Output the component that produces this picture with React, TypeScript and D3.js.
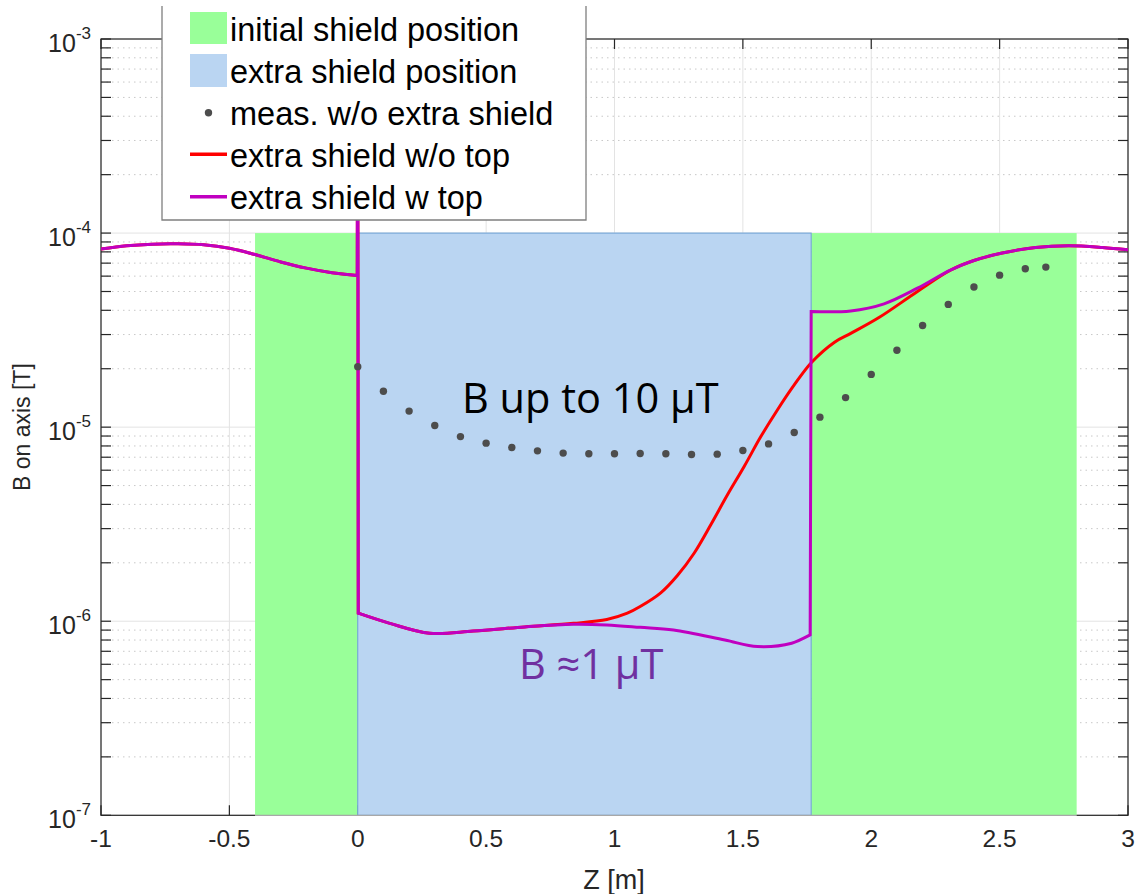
import React from 'react';
import * as d3 from 'd3';

// shield regions [start, end] in m
const initialShield = [[-0.4, 0], [1.766, 2.8]];
const extraShield = [[0, 1.766]];
const shieldTop = 1e-4;

// measurement without extra shield
const measZ = [0, 0.1, 0.2, 0.3, 0.4, 0.5, 0.6, 0.7, 0.8, 0.9, 1.0, 1.1, 1.2, 1.3, 1.4,
  1.5, 1.6, 1.7, 1.8, 1.9, 2.0, 2.1, 2.2, 2.3, 2.4, 2.5, 2.6, 2.68];
const measB = [2.05e-5, 1.53e-5, 1.21e-5, 1.02e-5, 8.94e-6, 8.27e-6, 7.85e-6, 7.55e-6, 7.35e-6,
  7.29e-6, 7.29e-6, 7.31e-6, 7.29e-6, 7.23e-6, 7.26e-6, 7.58e-6, 8.2e-6, 9.38e-6, 1.126e-5,
  1.42e-5, 1.87e-5, 2.49e-5, 3.34e-5, 4.29e-5, 5.27e-5, 6.07e-5, 6.55e-5, 6.68e-5];

// simulation, extra shield without top (each sub-array is a smooth piece)
const noTopZ = [
  [-1, -0.9, -0.8, -0.7, -0.6, -0.5, -0.4, -0.3, -0.2, -0.1, -0.002],
  [0],
  [0.002, 0.125, 0.28, 0.45, 0.65, 0.84, 0.97, 1.05, 1.1, 1.18, 1.245, 1.31, 1.375, 1.44, 1.505,
    1.57, 1.635, 1.7, 1.768, 1.857, 1.922, 2.03, 2.18, 2.31, 2.4, 2.51, 2.64, 2.77, 2.9, 3.0],
];
const noTopB = [
  [8.27e-5, 8.6e-5, 8.77e-5, 8.8e-5, 8.7e-5, 8.35e-5, 7.75e-5, 7.1e-5, 6.6e-5, 6.25e-5, 6.05e-5],
  [1.5e-3],
  [1.1e-6, 9.75e-7, 8.67e-7, 8.9e-7, 9.35e-7, 9.75e-7, 1.02e-6, 1.1e-6, 1.19e-6, 1.4e-6, 1.72e-6,
    2.24e-6, 3.14e-6, 4.48e-6, 6.27e-6, 8.94e-6, 1.23e-5, 1.65e-5, 2.16e-5, 2.74e-5, 3.05e-5,
    3.67e-5, 5.0e-5, 6.45e-5, 7.22e-5, 7.89e-5, 8.43e-5, 8.6e-5, 8.43e-5, 8.2e-5],
];

// simulation, extra shield with top
const topZ = [
  [-1, -0.9, -0.8, -0.7, -0.6, -0.5, -0.4, -0.3, -0.2, -0.1, -0.002],
  [0],
  [0.002, 0.125, 0.28, 0.45, 0.65, 0.84, 0.97, 1.1, 1.23, 1.43, 1.557, 1.69, 1.762],
  [1.766, 1.92, 2.05, 2.18, 2.31, 2.4, 2.51, 2.64, 2.77, 2.9, 3.0],
];
const topB = [
  [8.27e-5, 8.6e-5, 8.77e-5, 8.8e-5, 8.7e-5, 8.35e-5, 7.75e-5, 7.1e-5, 6.6e-5, 6.25e-5, 6.05e-5],
  [1.5e-3],
  [1.1e-6, 9.75e-7, 8.67e-7, 8.9e-7, 9.35e-7, 9.65e-7, 9.57e-7, 9.3e-7, 9.0e-7, 8.0e-7, 7.4e-7,
    7.7e-7, 8.5e-7],
  [3.94e-5, 3.97e-5, 4.32e-5, 5.2e-5, 6.47e-5, 7.22e-5, 7.89e-5, 8.43e-5, 8.6e-5, 8.43e-5, 8.2e-5],
];

const zTicks = [-1, -0.5, 0, 0.5, 1, 1.5, 2, 2.5, 3];
const decades = [-7, -6, -5, -4, -3];

const legendItems = ['initial shield position', 'extra shield position', 'meas. w/o extra shield',
  'extra shield w/o top', 'extra shield w top'];

const GREEN = '#99ff99';
const BLUE = '#bad5f2';
const RED = '#ff0000';
const MAGENTA = '#c000c0';
const AX = '#262626';
const FONT = '"Liberation Sans", Arial, Helvetica, sans-serif';
const NOTE_FONT = '"Open Sans", "Noto Sans", sans-serif';

export default function App() {
  const width = 1135, height = 894;
  const left = 101, right = 1128, top = 39, bottom = 815.3;

  const x = d3.scaleLinear().domain([-1, 3]).range([left, right]);
  const y = d3.scaleLog().domain([1e-7, 1e-3]).range([bottom, top]);

  const minors: number[] = [];
  decades.slice(0, -1).forEach(e => {
    for (let k = 2; k <= 9; k++) minors.push(k * Math.pow(10, e));
  });

  const smooth = d3.line<[number, number]>()
    .x(d => x(d[0]))
    .y(d => y(d[1]))
    .curve(d3.curveCatmullRom.alpha(0.5));

  // smooth pieces joined by straight steps
  const piecewise = (zs: number[][], bs: number[][]) => {
    let d = '';
    zs.forEach((zArr, i) => {
      const pts = zArr.map((z, j) => [z, bs[i][j]] as [number, number]);
      if (pts.length === 1) {
        d += `L${x(pts[0][0])},${y(pts[0][1])}`;
      } else {
        const s = smooth(pts) || '';
        d += i === 0 ? s : 'L' + s.slice(1);
      }
    });
    return d;
  };

  const noTopPath = piecewise(noTopZ, noTopB);
  const topPath = piecewise(topZ, topB);

  const tick = 10;

  return (
    <svg width={width} height={height} style={{ position: 'absolute', left: 0, top: 0, background: '#fff' }}
      fontFamily={FONT}>
      <defs>
        <clipPath id="plotClip">
          <rect x={left} y={top} width={right - left} height={bottom - top} />
        </clipPath>
      </defs>

      {/* grid */}
      <g>
        {minors.map(v => (
          <line key={'mg' + v} x1={left} x2={right} y1={y(v)} y2={y(v)}
            stroke="#c8c8c8" strokeWidth={1} strokeDasharray="1.5,4" />
        ))}
        {decades.map(e => (
          <line key={'yg' + e} x1={left} x2={right} y1={y(Math.pow(10, e))} y2={y(Math.pow(10, e))}
            stroke="#e3e3e3" strokeWidth={1} />
        ))}
        {zTicks.map(t => (
          <line key={'xg' + t} x1={x(t)} x2={x(t)} y1={top} y2={bottom} stroke="#e3e3e3" strokeWidth={1} />
        ))}
      </g>

      {/* axes box and ticks */}
      <g stroke={AX} strokeWidth={1.2}>
        <rect x={left} y={top} width={right - left} height={bottom - top} fill="none" />
        {zTicks.map(t => (
          <g key={'xt' + t}>
            <line x1={x(t)} x2={x(t)} y1={bottom} y2={bottom - tick} />
            <line x1={x(t)} x2={x(t)} y1={top} y2={top + tick} />
          </g>
        ))}
        {[...decades.map(e => Math.pow(10, e)), ...minors].map(v => (
          <g key={'yt' + v}>
            <line x1={left} x2={left + tick} y1={y(v)} y2={y(v)} />
            <line x1={right} x2={right - tick} y1={y(v)} y2={y(v)} />
          </g>
        ))}
      </g>

      {/* shield regions */}
      {initialShield.map(([a, b], i) => (
        <rect key={'is' + i} x={x(a)} y={y(shieldTop)} width={x(b) - x(a)} height={y(1e-7) - y(shieldTop)}
          fill={GREEN} />
      ))}
      {extraShield.map(([a, b], i) => (
        <rect key={'es' + i} x={x(a)} y={y(shieldTop)} width={x(b) - x(a)} height={y(1e-7) - y(shieldTop)}
          fill={BLUE} stroke="#6a9fd4" strokeWidth={1} />
      ))}
      <line x1={x(-0.4)} x2={x(2.8)} y1={bottom} y2={bottom} stroke="#a8a8a8" strokeWidth={1.2} />

      {/* curves */}
      <g clipPath="url(#plotClip)" fill="none" strokeLinejoin="miter">
        <path d={noTopPath} stroke={RED} strokeWidth={3} />
        <path d={topPath} stroke={MAGENTA} strokeWidth={3} />
      </g>

      {/* measurement */}
      {measZ.map((z, i) => (
        <circle key={'m' + i} cx={x(z)} cy={y(measB[i])} r={3.7} fill="#4d4d4d" />
      ))}

      {/* tick labels */}
      <g fill={AX} fontSize={24.5} textAnchor="middle">
        {zTicks.map(t => (
          <text key={'xl' + t} x={x(t)} y={847}>{t}</text>
        ))}
      </g>
      <g fill={AX} textAnchor="end">
        {decades.map(e => (
          <text key={'yl' + e} x={91} y={y(Math.pow(10, e)) + 12.5} fontSize={25}>
            10<tspan dy={-12.5} fontSize={17}>{e}</tspan>
          </text>
        ))}
      </g>

      {/* axis labels */}
      <text x={614} y={889} fontSize={27} textAnchor="middle" fill={AX}>Z [m]</text>
      <text transform={`translate(30, ${(top + bottom) / 2}) rotate(-90)`} fontSize={23}
        textAnchor="middle" fill={AX}>B on axis [T]</text>

      {/* annotations */}
      <text x={462} y={413} fontSize={41.5} fontFamily={NOTE_FONT} fill="#000">
        B up to 10 μT
      </text>
      <text x={519} y={679} fontSize={41.5} fontFamily={NOTE_FONT} fill="#7030a0">
        B ≈1 μT
      </text>

      {/* legend */}
      <g>
        <rect x={162} y={6} width={424} height={214} fill="#fff" />
        <path d="M162,6 V220 H586 V6" fill="none" stroke="#7f7f7f" strokeWidth={1.3} />
        <rect x={190} y={12} width={37} height={32} fill={GREEN} />
        <rect x={190} y={54} width={37} height={33} fill={BLUE} />
        <circle cx={208.5} cy={112.7} r={3.7} fill="#4d4d4d" />
        <line x1={190} x2={227} y1={154.3} y2={154.3} stroke={RED} strokeWidth={3.5} />
        <line x1={190} x2={227} y1={196.7} y2={196.7} stroke={MAGENTA} strokeWidth={3.5} />
        {legendItems.map((t, i) => (
          <text key={t} x={230} y={41 + i * 42} fontSize={32.5} fill="#000">{t}</text>
        ))}
      </g>
    </svg>
  );
}
